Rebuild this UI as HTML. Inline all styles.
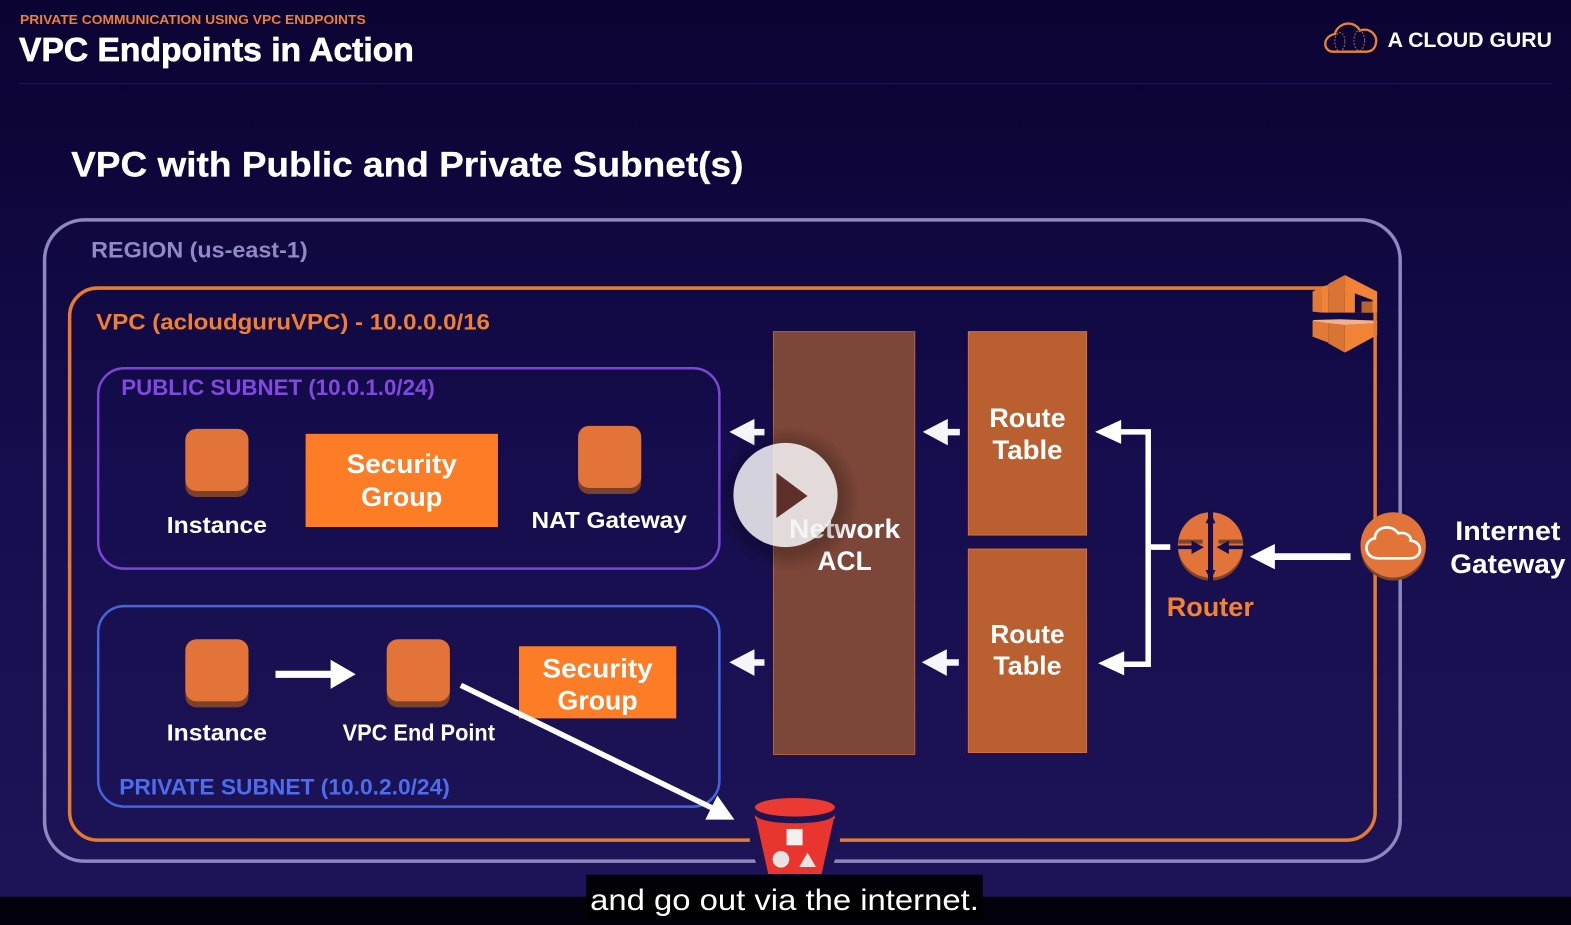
<!DOCTYPE html>
<html><head><meta charset="utf-8"><style>
html,body{margin:0;padding:0;background:#000;overflow:hidden}
svg{display:block}
text{font-family:"Liberation Sans",sans-serif;font-weight:700;fill:#fff}
</style></head><body>
<svg width="1571" height="925" viewBox="0 0 1568 923.2" preserveAspectRatio="none" xmlns="http://www.w3.org/2000/svg">
<defs>
<linearGradient id="bg" x1="0" y1="0" x2="0" y2="1"><stop offset="0" stop-color="#0b0332"/><stop offset=".12" stop-color="#0d0537"/><stop offset=".5" stop-color="#150d4d"/><stop offset="1" stop-color="#1d1557"/></linearGradient>
<radialGradient id="sh"><stop offset=".75" stop-color="#000" stop-opacity=".22"/><stop offset="1" stop-color="#000" stop-opacity="0"/></radialGradient>
<g id="inst"><rect x="0" y="4" width="63" height="64" rx="11" fill="#7c4129"/><rect x="0" y="0" width="63" height="62" rx="11" fill="#e2743a"/></g>
</defs>
<rect width="1568" height="924" fill="url(#bg)"/>
<rect x="18" y="83" width="1531" height="1" fill="#211a50"/>

<text x="20" y="24" font-size="12.5" textLength="345" lengthAdjust="spacingAndGlyphs" style="fill:#ed7f35">PRIVATE COMMUNICATION USING VPC ENDPOINTS</text>
<text x="19" y="61" font-size="33" textLength="394" lengthAdjust="spacingAndGlyphs" stroke="#fff" stroke-width=".7">VPC Endpoints in Action</text>
<text x="71" y="176" font-size="35" textLength="671" lengthAdjust="spacingAndGlyphs" stroke="#fff" stroke-width=".3">VPC with Public and Private Subnet(s)</text>

<!-- logo -->
<g transform="scale(.998) translate(1280 0) scale(.3333)">
<path d="M160,155C130,155 125,110 165,102C175,65 225,60 240,92C270,80 295,108 288,130C285,150 270,155 260,155Z" fill="none" stroke="#e98331" stroke-width="7"/>
<ellipse cx="180" cy="125" rx="15" ry="28" fill="none" stroke="#a8684c" stroke-width="3" stroke-dasharray="6 4"/>
<ellipse cx="238" cy="122" rx="16" ry="30" fill="none" stroke="#a8684c" stroke-width="3" stroke-dasharray="6 4"/>
</g>
<text x="1385" y="47" font-size="21" textLength="164" lengthAdjust="spacingAndGlyphs">A CLOUD GURU</text>

<!-- region -->
<rect x="44.500" y="219.500" width="1353" height="640" rx="40" fill="none" stroke="#8d88c0" stroke-width="3.500"/>
<text x="91" y="257" font-size="22" textLength="216" lengthAdjust="spacingAndGlyphs" style="fill:#8f8ac3">REGION (us-east-1)</text>

<!-- vpc -->
<rect x="69.500" y="287.500" width="1303" height="551" rx="28" fill="none" stroke="#e67a2e" stroke-width="3.500"/>
<text x="96" y="329" font-size="22" textLength="393" lengthAdjust="spacingAndGlyphs" style="fill:#f08030">VPC (acloudguruVPC) - 10.0.0.0/16</text>

<!-- vpc icon -->
<g transform="scale(.998) translate(1280 260) scale(.3333)">
<path d="M98,95L125,80V158L98,155Z" fill="#e27a35"/>
<path d="M125,80L145,75V160L125,158Z" fill="#f08336"/>
<path d="M145,72L195,45V178H145Z" fill="#d97534"/>
<path d="M195,45L292,95V178H195Z" fill="#f08336"/>
<path d="M98,158H292V182H98Z" fill="#120a44"/>
<path d="M225,100L278,120V125L245,125V158H225Z" fill="#120a44"/>
<path d="M245,125H278V158H245Z" fill="#b8632c"/>
<path d="M98,182L145,190V248L98,230Z" fill="#e27a35"/>
<path d="M145,190L195,195V278L145,250Z" fill="#d97534"/>
<path d="M195,195L292,190V225L195,278Z" fill="#f08336"/>
<path d="M100,180L180,178L292,182V190L195,195L145,190L100,183Z" fill="#f6b088"/>
</g>
<rect x="1370.750" y="312" width="3.500" height="24" fill="#e67a2e"/>

<!-- public subnet -->
<rect x="98" y="367.500" width="620" height="200" rx="26" fill="none" stroke="#7a46d8" stroke-width="2.500"/>
<text x="121" y="394" font-size="22" textLength="313" lengthAdjust="spacingAndGlyphs" style="fill:#8149e0">PUBLIC SUBNET (10.0.1.0/24)</text>
<use href="#inst" x="185" y="428"/>
<text x="216.500" y="532" font-size="23" text-anchor="middle" textLength="100" lengthAdjust="spacingAndGlyphs">Instance</text>
<rect x="305" y="433" width="192" height="93" fill="#fd7c26"/>
<text x="401" y="472" font-size="27" text-anchor="middle" textLength="110" lengthAdjust="spacingAndGlyphs">Security</text>
<text x="401" y="505" font-size="27" text-anchor="middle" textLength="81" lengthAdjust="spacingAndGlyphs">Group</text>
<use href="#inst" x="577" y="425"/>
<text x="608" y="527" font-size="23" text-anchor="middle" textLength="155" lengthAdjust="spacingAndGlyphs">NAT Gateway</text>

<!-- private subnet -->
<rect x="98" y="605" width="620" height="200" rx="26" fill="none" stroke="#4464dd" stroke-width="2.500"/>
<text x="119" y="793" font-size="22" textLength="330" lengthAdjust="spacingAndGlyphs" style="fill:#4d6cf0">PRIVATE SUBNET (10.0.2.0/24)</text>
<use href="#inst" x="185" y="638"/>
<text x="216.500" y="739" font-size="23" text-anchor="middle" textLength="100" lengthAdjust="spacingAndGlyphs">Instance</text>
<use href="#inst" x="386" y="638"/>
<text x="418" y="739" font-size="23" text-anchor="middle" textLength="152" lengthAdjust="spacingAndGlyphs">VPC End Point</text>
<rect x="518" y="645" width="157" height="72" fill="#fd7c26"/>
<text x="596.500" y="676" font-size="27" text-anchor="middle" textLength="110" lengthAdjust="spacingAndGlyphs">Security</text>
<text x="596.500" y="708" font-size="27" text-anchor="middle" textLength="80" lengthAdjust="spacingAndGlyphs">Group</text>
<path d="M275 669.500h55v-11l25 14.500-25 14.500v-11h-55z" fill="#fff"/>

<!-- nacl -->
<rect x="772" y="331" width="141" height="422" fill="#7c4638" stroke="#b5633a" stroke-width="1"/>
<text x="843" y="537" font-size="26.500" text-anchor="middle" textLength="111" lengthAdjust="spacingAndGlyphs">Network</text>
<text x="843" y="569" font-size="26.500" text-anchor="middle" textLength="54" lengthAdjust="spacingAndGlyphs">ACL</text>

<!-- route tables -->
<rect x="966.500" y="331" width="118" height="203" fill="#b95f30" stroke="#d9703a" stroke-width="1"/>
<text x="1025.500" y="426" font-size="27" text-anchor="middle" textLength="76" lengthAdjust="spacingAndGlyphs">Route</text>
<text x="1025.500" y="458" font-size="27" text-anchor="middle" textLength="70" lengthAdjust="spacingAndGlyphs">Table</text>
<rect x="966.500" y="548" width="118" height="203" fill="#b95f30" stroke="#d9703a" stroke-width="1"/>
<text x="1025.500" y="642" font-size="26" text-anchor="middle" textLength="74" lengthAdjust="spacingAndGlyphs">Route</text>
<text x="1025.500" y="673" font-size="26" text-anchor="middle" textLength="68" lengthAdjust="spacingAndGlyphs">Table</text>

<!-- small arrows -->
<g fill="#f6f6f8">
<path d="M728 431l25-13v10h10v6.500h-10v10z"/>
<path d="M921 431l25-13v10h12v6.500h-12v10z"/>
<path d="M728 661l25-13v10h10v6.500h-10v10z"/>
<path d="M920 661l25-13v10h12v6.500h-12v10z"/>
</g>
<!-- bracket -->
<path d="M1116 431h30v232h-30M1146 546h22" fill="none" stroke="#fff" stroke-width="5.500"/>
<path d="M1093 431l26-12v24z" fill="#fff"/>
<path d="M1096 662l26-12v24z" fill="#fff"/>

<!-- router -->
<g transform="scale(.998) translate(1140 490) scale(.3333)">
<circle cx="212" cy="174" r="98" fill="#7d4429"/>
<circle cx="212" cy="165" r="98" fill="#e2743a"/>
<path d="M115,155H188M309,155H236" stroke="#7d4429" stroke-width="12"/>
<path d="M212,62V280" stroke="#150d4d" stroke-width="15"/>
<path d="M212,68L197,100H227ZM212,272L197,240H227Z" fill="#150d4d"/>
<path d="M113,172H170M311,172H254" stroke="#150d4d" stroke-width="11"/>
<path d="M192,172L155,152V192ZM230,172L267,152V192Z" fill="#150d4d"/>
<path d="M205,62h14v210h-14z" fill="#150d4d"/>
</g>
<text x="1208" y="615" font-size="27" text-anchor="middle" textLength="87" lengthAdjust="spacingAndGlyphs" style="fill:#f5822f">Router</text>

<!-- igw -->
<g transform="scale(.998) translate(1140 490) scale(.3333)">
<circle cx="760" cy="174" r="98" fill="#7d4429"/>
<circle cx="760" cy="165" r="98" fill="#e2743a"/>
<path d="M715,205C670,205 670,150 705,145C705,110 755,100 775,130C800,125 815,140 812,152C850,155 850,205 810,205Z" fill="none" stroke="#fff" stroke-width="8"/>
<path d="M632,190H405V162L330,200L405,238V210H632Z" fill="#fff"/>
</g>
<text x="1505" y="539" font-size="27" text-anchor="middle" textLength="105" lengthAdjust="spacingAndGlyphs">Internet</text>
<text x="1505" y="572" font-size="27" text-anchor="middle" textLength="115" lengthAdjust="spacingAndGlyphs">Gateway</text>

<!-- diagonal -->
<path d="M460 684L712 807" stroke="#fff" stroke-width="5.500"/>
<path d="M733 818H704L716 794z" fill="#fff"/>

<!-- bucket -->
<g transform="scale(.998) translate(700 770) scale(.3333)">
<path d="M150,190H420V240H150Z" fill="#1b1352"/>
<path d="M160,255H410L398,290H172Z" fill="#1b1352"/>
<path d="M165,132H405L365,312H205Z" fill="#e8352e"/>
<ellipse cx="285" cy="115" rx="120" ry="30" fill="#1e1450"/>
<ellipse cx="285" cy="135" rx="120" ry="25" fill="#1e1450"/>
<ellipse cx="285" cy="112" rx="120" ry="28" fill="#ea3a31"/>
<path d="M165,135C190,170 380,170 405,135V145C380,172 190,172 165,145Z" fill="#e8352e"/>
<rect x="260" y="177" width="48" height="49" fill="#f3f0f0"/>
<circle cx="243" cy="268" r="25" fill="#e8e4e4"/>
<path d="M323,248L348,291H298Z" fill="#e8e4e4"/>
</g>

<!-- play -->
<circle cx="786" cy="498" r="72" fill="url(#sh)"/>
<circle cx="784" cy="494" r="52" fill="#fff" fill-opacity=".82"/>
<path d="M775 472l31 23-31 22z" fill="#5f2f2a"/>

<!-- caption -->
<rect x="0" y="895" width="1568" height="30" fill="#03020c"/>
<rect x="585" y="873" width="396" height="45" fill="#000" fill-opacity=".92"/>
<text x="783" y="908" font-size="30" text-anchor="middle" textLength="388" lengthAdjust="spacingAndGlyphs" style="font-weight:400">and go out via the internet.</text>
</svg>
</body></html>
